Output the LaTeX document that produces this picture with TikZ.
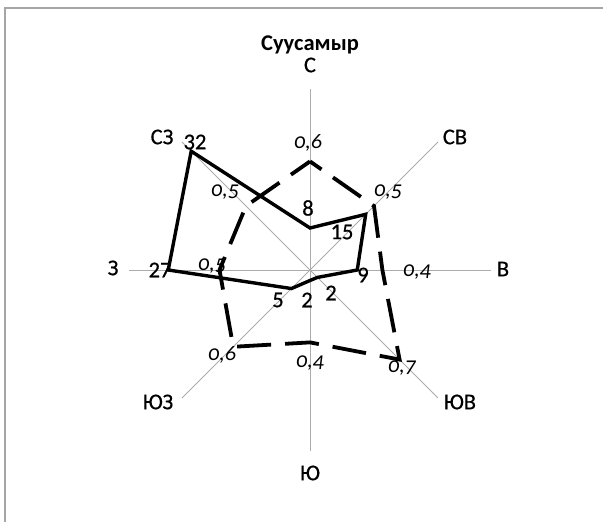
\documentclass[tikz,border=0pt]{standalone}
\usepackage{fontspec}
\setmainfont{Carlito}
\newfontfamily\lblfont[FakeBold=0.6]{Carlito}
\newfontfamily\italfont[Numbers=OldStyle]{Carlito}
\begin{document}
\begin{tikzpicture}[x=1pt,y=1pt,
  axisline/.style={draw=gray!65, line width=0.9pt},
  lbl/.style={font=\fontsize{22.5}{24}\lblfont, inner sep=0pt},
  num/.style={font=\fontsize{22.5}{24}\lblfont, inner sep=0pt},
  val/.style={font=\fontsize{22}{24}\italfont\itshape, inner sep=0pt},
  freqline/.style={line width=3.4pt, line join=miter},
  speedline/.style={line width=3.8pt, dash pattern=on 34pt off 14pt, dash phase=20pt}]
\useasboundingbox (0,0) rectangle (603,522);
% frame (top and left only)
\coordinate (FL) at (5,0);
\coordinate (FC) at (5,514);
\coordinate (FR) at (603,514);
\draw[gray!70, line width=2pt] (FL) -- (FC) -- (FR);
\coordinate (O) at (310,252);
\begin{scope}[shift={(O)}]
  \foreach \a/\n in {90/N,45/NE,0/E,-45/SE,-90/S,-135/SW,180/W,135/NW}{
    \coordinate (\n) at (\a:181);
    \draw[axisline] (O) -- (\n);
  }
  % frequency (solid)
  \coordinate (f1) at (90:42);
  \coordinate (f2) at (45:78.75);
  \coordinate (f3) at (0:47.25);
  \coordinate (f4) at (-45:10.5);
  \coordinate (f5) at (-90:10.5);
  \coordinate (f6) at (-135:26.25);
  \coordinate (f7) at (180:141.75);
  \coordinate (f8) at (135:168);
  \draw[freqline] (f1) -- (f2) -- (f3) -- (f4) -- (f5) -- (f6) -- (f7) -- (f8) -- cycle;
  % speed (dashed)
  \coordinate (s1) at (90:108.6);
  \coordinate (s2) at (45:90.5);
  \coordinate (s3) at (0:72.4);
  \coordinate (s4) at (-45:126.7);
  \coordinate (s5) at (-90:72.4);
  \coordinate (s6) at (-135:108.6);
  \coordinate (s7) at (180:90.5);
  \coordinate (s8) at (135:90.5);
  \draw[speedline] (s1) -- (s2) -- (s3) -- (s4) -- (s5) -- (s6) -- (s7) -- (s8) -- cycle;
\end{scope}
% title and direction labels
\node[lbl, font=\fontsize{22.5}{24}\selectfont\bfseries] (title) at (310,477) {Суусамыр};
\node[lbl] (lN) at (310,457) {С};
\node[lbl] (lNW) at (162,385) {СЗ};
\node[lbl] (lNE) at (455,385) {СВ};
\node[lbl] (lW) at (113,254) {З};
\node[lbl] (lE) at (503,253) {В};
\node[lbl] (lSW) at (158,120) {ЮЗ};
\node[lbl] (lSE) at (460,120) {ЮВ};
\node[lbl] (lS) at (310,49) {Ю};
% frequency values
\node[num] (n32) at (195,380) {32};
\node[num] (n8) at (308,314) {8};
\node[num] (n15) at (342,290) {15};
\node[num] (n9) at (363,247) {9};
\node[num] (n27) at (160,252) {27};
\node[num] (n5) at (278,222) {5};
\node[num] (n2s) at (307,222) {2};
\node[num] (n2se) at (331,229) {2};
% speed values
\node[val] (v1) at (308,379) {0,6};
\node[val] (v2) at (225,330) {0,5};
\node[val] (v3) at (388,330) {0,5};
\node[val] (v4) at (212,256) {0,5};
\node[val] (v5) at (417,250) {0,4};
\node[val] (v6) at (222,167) {0,6};
\node[val] (v7) at (310,159) {0,4};
\node[val] (v8) at (402,154) {0,7};
\end{tikzpicture}
\end{document}
